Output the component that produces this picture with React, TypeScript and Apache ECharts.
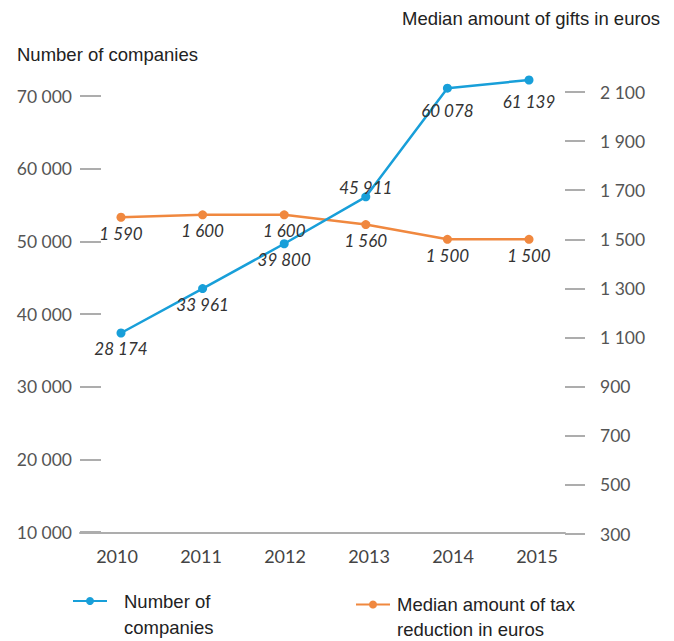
import React, { useEffect, useRef } from "react";
import * as echarts from "echarts";

const years = ["2010", "2011", "2012", "2013", "2014", "2015"];
const companies = [28174, 33961, 39800, 45911, 60078, 61139];
const taxReduction = [1590, 1600, 1600, 1560, 1500, 1500];
const leftTicks = { min: 10000, max: 70000, interval: 10000 };
const rightTicks = { min: 300, max: 2100, interval: 200 };

const BLUE = "#189fd9";
const ORANGE = "#f0883f";
const GRAY = "#adadad";

const fmt = (v: number) => String(v).replace(/\B(?=(\d{3})+(?!\d))/g, " ");

export default function App() {
  const ref = useRef<HTMLDivElement>(null);
  useEffect(() => {
    const chart = echarts.init(ref.current!, null, { renderer: "svg" });
    const labelFont = {
      fontFamily: "Lato",
      fontStyle: "italic" as const,
      fontSize: 17,
      color: "#333",
    };
    const titleFont = { fontFamily: "Liberation Sans", fontSize: 18.5, fontWeight: "normal" as const, color: "#222" };
    const legendFont = { fontFamily: "Liberation Sans", fontSize: 18.5, color: "#222", lineHeight: 26 };
    const blueData = companies.map((v, i) => {
      const item: any = { value: v };
      if (i === 3) item.label = { position: "top", distance: -4 };
      if (i >= 4) item.label = { position: "bottom", distance: 9 };
      return item;
    });
    chart.setOption({
      animation: false,
      title: [
        { text: "Number of companies", left: 12, top: 40, textStyle: titleFont },
        { text: "Median amount of gifts in euros", left: 397, top: 4, textStyle: titleFont },
      ],
      legend: [
        {
          data: ["Number of companies"],
          left: 72,
          top: 562,
          padding: 0,
          itemWidth: 34,
          itemHeight: 10,
          formatter: () => "\nNumber of\ncompanies",
          textStyle: { ...legendFont, padding: [0, 0, 0, 12] },
        },
        {
          data: ["Median amount of tax reduction in euros"],
          left: 355,
          top: 567,
          padding: 0,
          itemWidth: 34,
          itemHeight: 10,
          formatter: () => "\nMedian amount of tax\nreduction in euros",
          textStyle: { ...legendFont, lineHeight: 25, padding: [0, 0, 0, 2] },
        },
      ],
      grid: [
        { left: 80, width: 485, top: 96, height: 436 },
        { left: 121, width: 408, top: 92, height: 442 },
        { left: 121, width: 408, top: 70, height: 464 },
        { left: 117, width: 420, top: 92, height: 442 },
      ],
      xAxis: [
        {
          gridIndex: 0,
          type: "category",
          data: years,
          offset: 1,
          axisLine: { lineStyle: { color: GRAY, width: 2 } },
          axisTick: { show: false },
          axisLabel: { show: false },
        },
        { gridIndex: 1, type: "category", data: years, boundaryGap: false, show: false },
        { gridIndex: 2, type: "category", data: years, boundaryGap: false, show: false },
        {
          gridIndex: 3,
          type: "category",
          data: years,
          boundaryGap: false,
          axisLine: { show: false },
          axisTick: { show: false },
          axisLabel: { margin: 13, fontFamily: "Lato", fontSize: 18, color: "#444" },
        },
      ],
      yAxis: [
        {
          gridIndex: 0,
          type: "value",
          position: "left",
          ...leftTicks,
          axisLine: { show: false },
          axisTick: { show: true, inside: true, length: 21, lineStyle: { color: GRAY, width: 2 } },
          splitLine: { show: false },
          axisLabel: { margin: 8, fontFamily: "Lato", fontSize: 17.5, color: "#555", formatter: fmt },
        },
        {
          gridIndex: 1,
          type: "value",
          position: "right",
          offset: 36,
          ...rightTicks,
          axisLine: { show: false },
          axisTick: { show: true, length: 20, lineStyle: { color: GRAY, width: 2 } },
          splitLine: { show: false },
          axisLabel: { margin: 35, fontFamily: "Lato", fontSize: 17.5, color: "#555", formatter: fmt },
        },
        { gridIndex: 2, type: "value", min: 1985, max: 62441, show: false, splitLine: { show: false } },
        { gridIndex: 3, type: "value", min: 0, max: 1, show: false, splitLine: { show: false } },
      ],
      series: [
        {
          name: "Median amount of tax reduction in euros",
          type: "line",
          xAxisIndex: 1,
          yAxisIndex: 1,
          data: taxReduction,
          color: ORANGE,
          symbol: "circle",
          symbolSize: 9,
          lineStyle: { width: 2.5, color: ORANGE },
          itemStyle: { color: ORANGE },
          label: { show: true, position: "bottom", distance: 3, formatter: (p: any) => fmt(p.value), ...labelFont },
        },
        {
          name: "Number of companies",
          type: "line",
          xAxisIndex: 2,
          yAxisIndex: 2,
          data: blueData,
          color: BLUE,
          symbol: "circle",
          symbolSize: 9,
          lineStyle: { width: 2.5, color: BLUE },
          itemStyle: { color: BLUE },
          label: { show: true, position: "bottom", distance: 3, formatter: (p: any) => fmt(p.value), ...labelFont },
        },
      ],
    });
    return () => chart.dispose();
  }, []);
  return <div ref={ref} style={{ width: 674, height: 641, position: "absolute", left: 0, top: 0 }} />;
}
